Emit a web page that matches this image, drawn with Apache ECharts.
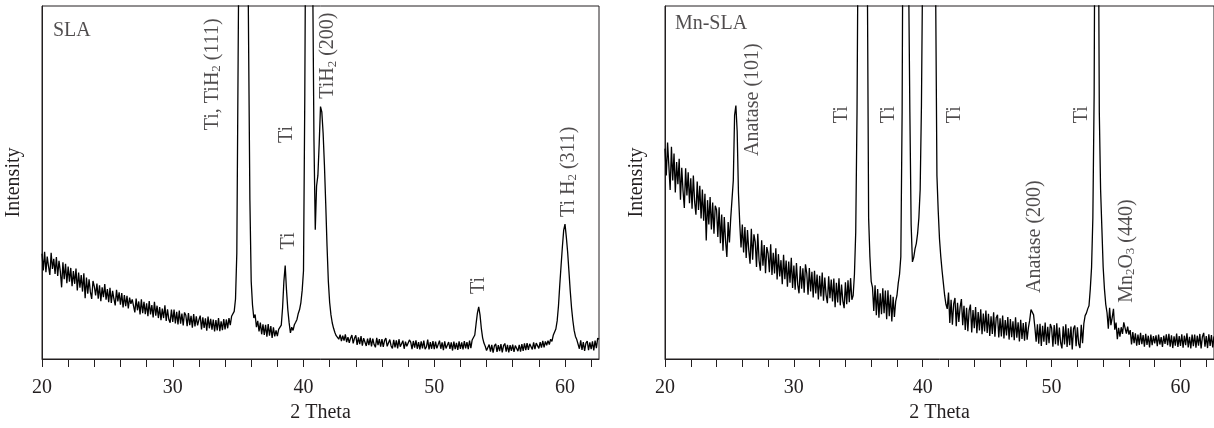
<!DOCTYPE html>
<html>
<head>
<meta charset="utf-8">
<script src="https://cdn.jsdelivr.net/npm/echarts@6/dist/echarts.min.js"></script>
<style>
  html, body { margin: 0; padding: 0; background: #fff; }
  #chart { width: 1214px; height: 428px; }
</style>
</head>
<body>
<div id="chart"></div>
<script>
// scan grid: 2 theta from 20.0, one reading every 0.1 degree
var thetaStart = 20;
var thetaStep = 0.1;

// SLA pattern (intensity in % of panel height)
var slaCounts = [
  29.8, 25.1, 30.4, 24.6, 29.0, 26.2, 23.8, 30.1, 25.5, 28.4,
  24.1, 28.9, 23.5, 27.8, 24.9, 20.3, 27.4, 22.6, 27.0, 21.5,
  26.2, 21.9, 25.8, 20.6, 24.9, 21.3, 25.6, 19.4, 24.5, 20.2,
  23.8, 19.1, 24.3, 17.2, 23.1, 18.5, 22.6, 19.0, 17.0, 22.1,
  20.6, 18.0, 21.4, 17.1, 20.9, 16.4, 20.3, 17.5, 21.2, 16.8,
  19.8, 16.1, 20.2, 15.9, 19.3, 17.0, 15.2, 19.6, 16.3, 18.9,
  15.4, 18.7, 14.6, 18.1, 15.0, 17.9, 14.3, 17.4, 15.6, 16.9,
  16.8, 13.2, 17.1, 13.8, 16.3, 12.6, 16.9, 13.0, 16.2, 12.7,
  15.8, 12.1, 16.4, 12.6, 15.3, 11.8, 16.2, 12.3, 15.1, 11.6,
  14.7, 11.0, 14.3, 11.6, 15.2, 10.8, 14.1, 11.2, 10.3, 14.0,
  10.5, 14.0, 10.1, 13.4, 9.8, 13.7, 10.0, 12.9, 9.5, 13.2,
  12.4, 9.3, 13.0, 9.6, 12.2, 8.9, 12.7, 9.2, 12.1, 9.5,
  11.1, 12.3, 8.4, 11.8, 8.8, 11.5, 8.0, 12.0, 8.7, 11.4,
  8.3, 11.2, 7.8, 11.0, 8.1, 11.6, 7.9, 10.7, 8.2, 11.3,
  8.4, 11.2, 8.7, 11.6, 9.6, 12.1, 12.0, 13.5, 17.0, 30.0,
  85, 140, 170, 180, 175, 160, 150, 140, 90, 45,
  22.0, 15.3, 11.6, 12.6, 9.0, 10.8, 7.8, 10.3, 7.0, 9.8,
  6.8, 9.7, 6.3, 9.9, 6.6, 9.3, 6.0, 9.0, 6.4, 8.1,
  6.5, 8.4, 8.0, 9.6, 14.5, 22.0, 26.5, 19.5, 14.0, 10.3,
  7.4, 9.0, 8.1, 9.7, 10.4, 11.2, 12.9, 14.0, 16.0, 19.5,
  25.0, 75, 150, 180, 180, 170, 160, 110, 62, 36.6,
  49.0, 52.0, 61.0, 71.5, 70.0, 64.0, 55.0, 44.0, 32.0, 22.0,
  16.0, 12.5, 10.2, 8.7, 7.5, 6.6, 7.1, 5.6, 6.9, 5.1,
  6.6, 5.2, 7.0, 4.8, 6.2, 4.6, 5.9, 6.8, 4.4, 5.9,
  6.7, 4.0, 6.1, 4.2, 6.5, 3.8, 5.9, 6.3, 3.7, 5.8,
  3.9, 6.0, 3.6, 5.8, 4.1, 3.3, 6.0, 3.9, 5.6, 3.5,
  5.6, 3.4, 5.3, 5.9, 3.6, 3.1, 5.5, 3.7, 3.0, 5.4,
  3.3, 5.3, 3.0, 5.6, 3.5, 3.2, 5.2, 2.9, 4.9, 3.6,
  3.1, 5.4, 4.8, 2.8, 5.1, 3.2, 5.3, 2.9, 4.8, 2.7,
  5.0, 3.0, 5.2, 2.8, 3.4, 5.5, 2.7, 4.8, 2.9, 5.1,
  2.8, 4.9, 3.0, 2.6, 5.2, 2.9, 4.7, 2.5, 5.0, 3.0,
  2.7, 4.8, 2.9, 4.7, 2.4, 4.9, 2.8, 4.6, 2.6, 5.0,
  2.9, 4.7, 2.7, 5.1, 3.0, 4.8, 2.8, 5.2, 3.1, 5.4,
  5.2, 6.8, 10.0, 13.0, 14.8, 12.5, 8.7, 6.0, 4.5, 3.6,
  2.4, 1.9, 4.1, 2.1, 4.0, 1.8, 3.7, 4.3, 2.0, 3.9,
  2.2, 4.2, 1.9, 3.8, 4.4, 2.1, 4.0, 1.9, 3.9, 2.3,
  4.1, 2.0, 3.8, 4.3, 2.2, 4.0, 2.1, 4.2, 2.3, 4.4,
  2.5, 4.5, 2.6, 4.3, 4.6, 2.7, 4.7, 2.8, 4.5, 4.9,
  3.0, 4.8, 3.2, 5.1, 3.3, 5.0, 3.9, 5.2, 4.1, 5.6,
  5.0, 6.7, 7.2, 8.5, 10.8, 15.0, 21.0, 26.5, 31.8, 36.5,
  38.2, 34.6, 30.4, 24.9, 19.3, 14.5, 10.9, 8.1, 6.4, 5.5,
  5.2, 2.9, 5.3, 2.6, 4.8, 2.3, 4.5, 5.1, 2.5, 4.7,
  2.8, 5.0, 2.4, 5.2, 3.1, 5.9, 5.6
];

// Mn-SLA pattern
var mnSlaCounts = [
  59.6, 52.0, 61.3, 54.7, 47.9, 60.1, 50.6, 58.2, 47.2, 55.8,
  49.5, 56.7, 45.1, 54.2, 47.6, 42.8, 54.0, 46.3, 52.9, 44.1,
  51.2, 42.6, 52.0, 44.5, 40.9, 50.3, 42.2, 49.1, 39.8, 48.0,
  39.2, 46.8, 33.6, 45.0, 38.1, 45.9, 36.7, 44.3, 35.5, 43.4,
  42.3, 34.6, 43.0, 32.8, 40.9, 30.7, 40.2, 33.4, 28.9, 38.8,
  33.0, 39.9, 40.1, 50.6, 69.0, 71.8, 64.5, 47.0, 38.5, 31.6,
  38.1, 30.2, 37.4, 28.6, 36.5, 30.8, 27.0, 36.9, 28.1, 35.3,
  33.2, 26.1, 35.5, 27.9, 25.0, 33.6, 26.4, 32.3, 24.3, 31.7,
  29.9, 24.6, 32.5, 23.8, 30.1, 24.2, 31.4, 22.5, 29.7, 23.4,
  28.0, 21.2, 29.5, 22.6, 27.9, 20.5, 27.6, 21.6, 28.7, 20.1,
  26.5, 19.6, 27.2, 21.0, 18.6, 26.3, 19.9, 25.7, 18.8, 26.8,
  24.3, 18.2, 25.8, 19.1, 24.7, 17.4, 25.0, 18.6, 23.9, 16.9,
  23.6, 17.7, 24.5, 16.5, 23.1, 18.1, 15.8, 23.4, 17.2, 22.5,
  16.3, 22.8, 14.7, 21.6, 16.0, 22.9, 15.2, 21.1, 16.4, 14.4,
  21.7, 15.5, 22.3, 16.1, 22.9, 16.8, 18.0, 24.0, 36.0, 70.0,
  130, 170, 180, 180, 175, 165, 150, 110, 40.0, 29.0,
  22.0, 20.3, 13.6, 20.9, 12.4, 19.8, 11.7, 18.6, 12.7, 20.0,
  13.0, 19.4, 11.3, 19.5, 12.1, 18.2, 10.6, 17.6, 11.9, 16.3,
  18.0, 21.5, 24.0, 29.0, 70, 160, 180, 175, 160, 110,
  70, 38.0, 27.5, 28.8, 31.2, 32.7, 35.5, 40.0, 48.0, 72.0,
  115, 160, 180, 180, 180, 180, 175, 170, 160, 140,
  105, 52.0, 42.0, 34.0, 29.0, 25.0, 21.5, 18.0, 15.5, 14.2,
  18.8, 10.2, 16.8, 9.7, 15.6, 17.3, 9.3, 15.9, 10.5, 14.7,
  17.0, 9.6, 15.1, 8.2, 14.5, 7.9, 13.8, 15.4, 7.5, 13.9,
  8.7, 14.7, 7.3, 13.3, 8.1, 14.1, 7.0, 12.9, 7.8, 13.7,
  7.4, 12.8, 6.5, 12.1, 7.1, 13.2, 6.3, 11.7, 12.5, 6.1,
  11.5, 6.4, 12.3, 5.8, 11.0, 6.7, 11.9, 5.5, 11.3, 6.2,
  10.7, 5.3, 11.8, 6.0, 10.4, 5.0, 11.1, 5.7, 10.2, 5.2,
  10.5, 5.5, 8.9, 11.0, 14.0, 14.5, 12.5, 9.0, 4.9, 9.8,
  4.3, 10.0, 3.7, 9.4, 4.9, 10.3, 4.0, 9.1, 4.5, 9.9,
  8.8, 3.5, 9.6, 4.2, 10.1, 3.8, 8.9, 4.6, 3.0, 9.3,
  4.1, 9.8, 3.4, 8.7, 3.9, 9.2, 2.7, 8.6, 9.5, 3.6,
  9.0, 4.3, 3.1, 9.7, 4.5, 10.0, 12.3, 13.0, 14.2, 15.1,
  19.8, 26.0, 40.0, 75.0, 170, 180, 150, 70.0, 48.0, 37.0,
  26.0, 19.8, 15.5, 13.1, 8.6, 14.5, 9.6, 11.7, 14.2, 8.3,
  10.3, 5.6, 8.8, 6.3, 9.0, 7.1, 10.4, 10.9, 7.2, 9.2,
  6.9, 8.2, 4.1, 7.6, 4.5, 7.3, 3.8, 6.9, 4.0, 7.4,
  4.2, 6.8, 3.5, 7.1, 4.0, 6.6, 3.3, 6.9, 3.9, 6.5,
  4.4, 6.7, 3.6, 6.9, 4.1, 6.2, 3.4, 6.6, 4.3, 7.0,
  3.9, 7.1, 3.5, 6.7, 3.1, 6.4, 3.8, 7.2, 3.4, 6.5,
  3.7, 7.0, 3.2, 6.6, 3.9, 7.3, 3.3, 6.3, 3.0, 6.9,
  3.6, 6.9, 3.2, 6.6, 3.8, 7.1, 3.0, 6.3, 7.4, 3.5,
  6.5, 3.1, 7.0, 3.7, 6.8, 3.3, 6.4
];

// peak labels: text (_n = subscript), 2 theta and level of the label's lower end
var slaNoteText = ['Ti, TiH_2 (111)', 'Ti', 'TiH_2 (200)', 'Ti', 'Ti', 'Ti H_2 (311)'];
var slaNoteTheta = [33.08, 38.75, 41.88, 38.9, 53.44, 60.25];
var slaNoteLevel = [64.8, 61.2, 73.7, 31.0, 18.4, 40.2];

var mnNoteText = ['Anatase (101)', 'Ti', 'Ti', 'Ti', 'Ti', 'Anatase (200)', 'Mn_2O_3 (440)'];
var mnNoteTheta = [26.78, 33.71, 37.33, 42.5, 52.36, 48.66, 55.82];
var mnNoteLevel = [57.5, 66.8, 66.8, 66.8, 66.8, 18.7, 15.9];

var panelTitles = ['SLA', 'Mn-SLA'];

var serif = 'Liberation Serif';
var ink = '#231f20';

function toPoints(counts) {
    var pts = [];
    for (var i = 0; i < counts.length; i++) {
        pts.push([+(thetaStart + i * thetaStep).toFixed(1), counts[i]]);
    }
    return pts;
}

function richText(s) {
    return '{t|' + s.replace(/_(\d)/g, '}{s|$1}{t|') + '}';
}

var rich = {
    t: { fontFamily: serif, fontSize: 20, color: ink, lineHeight: 21 },
    s: { fontFamily: serif, fontSize: 13, color: ink, lineHeight: 21, verticalAlign: 'bottom' }
};

function notes(text, theta, level, title, idx) {
    var data = [];
    for (var i = 0; i < text.length; i++) {
        data.push({ value: [theta[i], level[i]], name: text[i] });
    }
    return [{
        type: 'scatter',
        xAxisIndex: idx,
        yAxisIndex: idx,
        symbolSize: 0,
        silent: true,
        data: data,
        label: {
            show: true,
            position: [0, 0],
            rotate: 90,
            align: 'left',
            verticalAlign: 'middle',
            formatter: function (p) { return richText(p.name); },
            rich: rich
        }
    }, {
        type: 'scatter',
        xAxisIndex: idx,
        yAxisIndex: idx,
        symbolSize: 0,
        silent: true,
        data: [{ value: [idx === 0 ? 20.84 : 20.77, idx === 0 ? 93 : 95], name: title }],
        label: {
            show: true,
            position: [0, 0],
            align: 'left',
            verticalAlign: 'middle',
            formatter: '{b}',
            fontFamily: serif,
            fontSize: 20,
            color: ink
        }
    }];
}

function xAxis(idx) {
    return {
        type: 'value',
        gridIndex: idx,
        min: 20,
        max: 62.6,
        interval: 2,
        name: '2 Theta',
        nameLocation: 'middle',
        nameGap: 44,
        nameTextStyle: { fontFamily: serif, fontSize: 20, color: ink },
        axisLine: { lineStyle: { color: ink, width: 1 } },
        axisTick: { length: 8, lineStyle: { color: ink } },
        axisLabel: {
            margin: 19,
            fontFamily: serif,
            fontSize: 20,
            color: ink,
            showMaxLabel: false,
            formatter: function (v) { return v % 10 === 0 ? String(v) : ''; }
        },
        splitLine: { show: false }
    };
}

function yAxis(idx) {
    return {
        type: 'value',
        gridIndex: idx,
        min: 0,
        max: 100,
        name: 'Intensity',
        nameLocation: 'middle',
        nameGap: 18,
        nameTextStyle: { fontFamily: serif, fontSize: 20, color: ink },
        axisLine: { show: true, lineStyle: { color: ink, width: 1 } },
        axisTick: { show: false },
        axisLabel: { show: false },
        splitLine: { show: false }
    };
}

function scan(counts, idx) {
    return {
        type: 'line',
        xAxisIndex: idx,
        yAxisIndex: idx,
        data: toPoints(counts),
        showSymbol: false,
        clip: true,
        lineStyle: { color: '#000', width: 1.3 }
    };
}

var chart = echarts.init(document.getElementById('chart'));

chart.setOption({
    animation: false,
    backgroundColor: '#fff',
    grid: [
        { left: 42, top: 6, width: 557, height: 358, show: true, borderColor: ink, borderWidth: 1 },
        { left: 665, top: 6, width: 553, height: 358, show: true, borderColor: ink, borderWidth: 1 }
    ],
    xAxis: [xAxis(0), xAxis(1)],
    yAxis: [yAxis(0), yAxis(1)],
    series: [scan(slaCounts, 0), scan(mnSlaCounts, 1)]
        .concat(notes(slaNoteText, slaNoteTheta, slaNoteLevel, panelTitles[0], 0))
        .concat(notes(mnNoteText, mnNoteTheta, mnNoteLevel, panelTitles[1], 1))
});
</script>
</body>
</html>
